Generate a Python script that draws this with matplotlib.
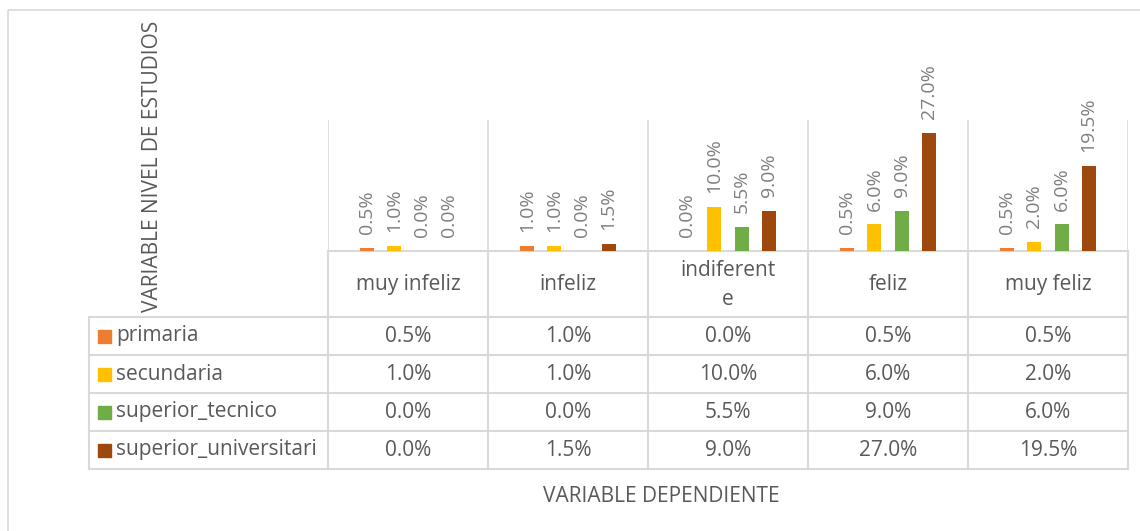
import numpy as np
import matplotlib
matplotlib.use("Agg")
import matplotlib.pyplot as plt
from matplotlib.patches import Rectangle

plt.rcParams['font.family'] = ['Open Sans', 'DejaVu Sans']

# data
categorias = ["muy infeliz", "infeliz", "indiferent\ne", "feliz", "muy feliz"]
series     = ["primaria", "secundaria", "superior_tecnico", "superior_universitari"]
primaria              = [0.005, 0.010, 0.000, 0.005, 0.005]
secundaria            = [0.010, 0.010, 0.100, 0.060, 0.020]
superior_tecnico      = [0.000, 0.000, 0.055, 0.090, 0.060]
superior_universitari = [0.000, 0.015, 0.090, 0.270, 0.195]
valores = [primaria, secundaria, superior_tecnico, superior_universitari]
colores = ["#ED7D31", "#FFC000", "#70AD47", "#9E480E"]

ylabel = "VARIABLE NIVEL DE ESTUDIOS"
xlabel = "VARIABLE DEPENDIENTE"

W, H = 1140, 531
grid_c = "#D9D9D9"
txt_c = "#595959"
lbl_c = "#7F7F7F"
fs = 15

fig = plt.figure(figsize=(W / 100, H / 100), dpi=100)

# full-figure canvas in pixel coords for the frame and the data table
cv = fig.add_axes([0, 0, 1, 1])
cv.set_xlim(0, W)
cv.set_ylim(H, 0)
cv.axis("off")

# layout (pixels)
x_leg = 89
x0 = 328
col_w = 160
y_base = 250.5
y_head = 317
row_h = 38
n_cat = len(categorias)
x_end = x0 + col_w * n_cat
y_end = y_head + row_h * len(series)

cv.add_patch(Rectangle((8, 10), W, H, fill=False, ec=grid_c, lw=1.2))

# bar axes
ax = fig.add_axes([x0 / W, (H - y_base) / H, (x_end - x0) / W, (y_base - 120) / H])
ax.set_xlim(0, n_cat)
ax.set_ylim(0, 0.30)
ax.axis("off")
for i in range(n_cat + 1):
    ax.axvline(i, color=grid_c, lw=1.2, zorder=0)

offs = [-1.5, -0.5, 0.5, 1.5]
bw = 0.0875
step = 0.169
xc = np.arange(n_cat) + 0.5
for s, vals in enumerate(valores):
    xs = xc + offs[s] * step
    ax.bar(xs, vals, width=bw, color=colores[s], zorder=2)
    for xx, v in zip(xs, vals):
        ax.annotate(f"{v * 100:.1f}%", (xx, v), xytext=(0, 10), textcoords="offset points",
                    rotation=90, ha="center", va="bottom", fontsize=14, color=lbl_c,
                    annotation_clip=False)

# table lines
cv.plot([x0, x_end], [y_base, y_base], color=grid_c, lw=1.5)
for r in range(len(series) + 1):
    y = y_head + r * row_h
    cv.plot([x_leg, x_end], [y, y], color=grid_c, lw=1.5)
cv.plot([x_leg, x_leg], [y_head, y_end], color=grid_c, lw=1.5)
for i in range(n_cat + 1):
    xx = x0 + i * col_w
    cv.plot([xx, xx], [y_base, y_end], color=grid_c, lw=1.5)

# header row
for i, c in enumerate(categorias):
    cv.text(x0 + (i + 0.5) * col_w, (y_base + y_head) / 2 + 1, c, ha="center", va="center",
            fontsize=fs, color=txt_c, linespacing=1.5)

# rows
for s, name in enumerate(series):
    yc = y_head + (s + 0.5) * row_h
    cv.add_patch(Rectangle((x_leg + 9, yc - 6.5), 13, 13, color=colores[s]))
    cv.text(x_leg + 27, yc, name, ha="left", va="center", fontsize=fs, color=txt_c)
    for i, v in enumerate(valores[s]):
        cv.text(x0 + (i + 0.5) * col_w, yc, f"{v * 100:.1f}%", ha="center", va="center",
                fontsize=fs, color=txt_c)

cv.text(153, 166, ylabel, rotation=90, ha="center", va="center", fontsize=fs, color=txt_c)
cv.text(661, 496, xlabel, ha="center", va="center", fontsize=fs, color=txt_c)

fig.savefig("out.png", dpi=100)
